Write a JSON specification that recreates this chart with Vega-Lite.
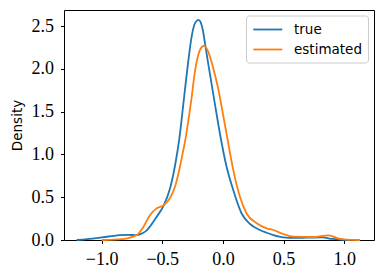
{
  "$schema": "https://vega.github.io/schema/vega-lite/v6.json",
  "width": 310,
  "height": 230,
  "autosize": {"type": "none"},
  "padding": {"left": 64, "top": 10, "right": 9, "bottom": 38},
  "background": "white",
  "config": {
    "view": {"stroke": "black", "strokeWidth": 1},
    "axis": {
      "grid": false,
      "domain": false,
      "tickColor": "black",
      "tickSize": 3.5,
      "tickWidth": 1,
      "labelFont": "Times New Roman, Liberation Serif, serif",
      "labelFontSize": 18,
      "labelColor": "black",
      "labelPadding": 7,
      "titleFont": "DejaVu Sans",
      "titleFontSize": 13.5,
      "titleFontWeight": "normal",
      "titleColor": "black"
    }
  },
  "data": {
    "values": [
      {"series": "true", "x": -1.206, "y": 0.0},
      {"series": "true", "x": -1.12, "y": 0.01},
      {"series": "true", "x": -1.0, "y": 0.03},
      {"series": "true", "x": -0.92, "y": 0.045},
      {"series": "true", "x": -0.85, "y": 0.057},
      {"series": "true", "x": -0.78, "y": 0.059},
      {"series": "true", "x": -0.72, "y": 0.058},
      {"series": "true", "x": -0.67, "y": 0.075},
      {"series": "true", "x": -0.63, "y": 0.11},
      {"series": "true", "x": -0.6, "y": 0.16},
      {"series": "true", "x": -0.547, "y": 0.27},
      {"series": "true", "x": -0.486, "y": 0.41},
      {"series": "true", "x": -0.437, "y": 0.6},
      {"series": "true", "x": -0.41, "y": 0.76},
      {"series": "true", "x": -0.385, "y": 0.95},
      {"series": "true", "x": -0.36, "y": 1.18},
      {"series": "true", "x": -0.335, "y": 1.48},
      {"series": "true", "x": -0.31, "y": 1.8},
      {"series": "true", "x": -0.285, "y": 2.1},
      {"series": "true", "x": -0.26, "y": 2.36},
      {"series": "true", "x": -0.235, "y": 2.52},
      {"series": "true", "x": -0.21, "y": 2.57},
      {"series": "true", "x": -0.2, "y": 2.575},
      {"series": "true", "x": -0.185, "y": 2.55},
      {"series": "true", "x": -0.165, "y": 2.45},
      {"series": "true", "x": -0.148, "y": 2.3},
      {"series": "true", "x": -0.121, "y": 2.06},
      {"series": "true", "x": -0.093, "y": 1.82},
      {"series": "true", "x": -0.066, "y": 1.59},
      {"series": "true", "x": -0.025, "y": 1.246},
      {"series": "true", "x": 0.03, "y": 0.856},
      {"series": "true", "x": 0.085, "y": 0.584},
      {"series": "true", "x": 0.154, "y": 0.31},
      {"series": "true", "x": 0.223, "y": 0.187},
      {"series": "true", "x": 0.3, "y": 0.12},
      {"series": "true", "x": 0.36, "y": 0.085},
      {"series": "true", "x": 0.415, "y": 0.058},
      {"series": "true", "x": 0.497, "y": 0.031},
      {"series": "true", "x": 0.59, "y": 0.025},
      {"series": "true", "x": 0.69, "y": 0.027},
      {"series": "true", "x": 0.82, "y": 0.03},
      {"series": "true", "x": 0.9, "y": 0.012},
      {"series": "true", "x": 0.97, "y": 0.004},
      {"series": "true", "x": 1.047, "y": 0.0},
      {"series": "estimated", "x": -1.0, "y": 0.0},
      {"series": "estimated", "x": -0.9, "y": 0.004},
      {"series": "estimated", "x": -0.79, "y": 0.02},
      {"series": "estimated", "x": -0.71, "y": 0.058},
      {"series": "estimated", "x": -0.657, "y": 0.15},
      {"series": "estimated", "x": -0.602, "y": 0.29},
      {"series": "estimated", "x": -0.547, "y": 0.37},
      {"series": "estimated", "x": -0.486, "y": 0.41},
      {"series": "estimated", "x": -0.437, "y": 0.49},
      {"series": "estimated", "x": -0.396, "y": 0.62},
      {"series": "estimated", "x": -0.354, "y": 0.86},
      {"series": "estimated", "x": -0.327, "y": 1.05},
      {"series": "estimated", "x": -0.31, "y": 1.17},
      {"series": "estimated", "x": -0.289, "y": 1.36},
      {"series": "estimated", "x": -0.261, "y": 1.635},
      {"series": "estimated", "x": -0.233, "y": 1.95},
      {"series": "estimated", "x": -0.206, "y": 2.15},
      {"series": "estimated", "x": -0.19, "y": 2.22},
      {"series": "estimated", "x": -0.172, "y": 2.26},
      {"series": "estimated", "x": -0.154, "y": 2.27},
      {"series": "estimated", "x": -0.121, "y": 2.2},
      {"series": "estimated", "x": -0.08, "y": 2.01},
      {"series": "estimated", "x": -0.039, "y": 1.77},
      {"series": "estimated", "x": -0.011, "y": 1.56},
      {"series": "estimated", "x": 0.03, "y": 1.24},
      {"series": "estimated", "x": 0.085, "y": 0.82},
      {"series": "estimated", "x": 0.14, "y": 0.506},
      {"series": "estimated", "x": 0.195, "y": 0.31},
      {"series": "estimated", "x": 0.278, "y": 0.195},
      {"series": "estimated", "x": 0.36, "y": 0.137},
      {"series": "estimated", "x": 0.415, "y": 0.117},
      {"series": "estimated", "x": 0.497, "y": 0.07},
      {"series": "estimated", "x": 0.58, "y": 0.039},
      {"series": "estimated", "x": 0.745, "y": 0.035},
      {"series": "estimated", "x": 0.868, "y": 0.055},
      {"series": "estimated", "x": 0.965, "y": 0.012},
      {"series": "estimated", "x": 1.05, "y": 0.002},
      {"series": "estimated", "x": 1.13, "y": 0.0}
    ]
  },
  "mark": {"type": "line", "interpolate": "monotone", "strokeWidth": 1.8},
  "encoding": {
    "x": {
      "field": "x",
      "type": "quantitative",
      "scale": {"domain": [-1.31, 1.245], "nice": false, "zero": false},
      "axis": {"values": [-1, -0.5, 0, 0.5, 1], "format": ".1f", "title": null}
    },
    "y": {
      "field": "y",
      "type": "quantitative",
      "scale": {"domain": [0, 2.69], "nice": false},
      "axis": {"values": [0, 0.5, 1, 1.5, 2, 2.5], "format": ".1f", "title": "Density", "titlePadding": 7}
    },
    "color": {
      "field": "series",
      "type": "nominal",
      "scale": {"domain": ["true", "estimated"], "range": ["#1f77b4", "#ff7f0e"]},
      "legend": {
        "title": null,
        "orient": "none",
        "legendX": 182,
        "legendY": 5.5,
        "symbolType": "M-1,0L3.3,0",
        "symbolSize": 182,
        "symbolStrokeWidth": 1.8,
        "labelFont": "DejaVu Sans",
        "labelFontSize": 13.5,
        "labelColor": "black",
        "labelOffset": 26,
        "rowPadding": 5,
        "padding": 6,
        "fillColor": "rgba(255,255,255,0.8)",
        "strokeColor": "#cccccc",
        "cornerRadius": 3
      }
    }
  }
}
